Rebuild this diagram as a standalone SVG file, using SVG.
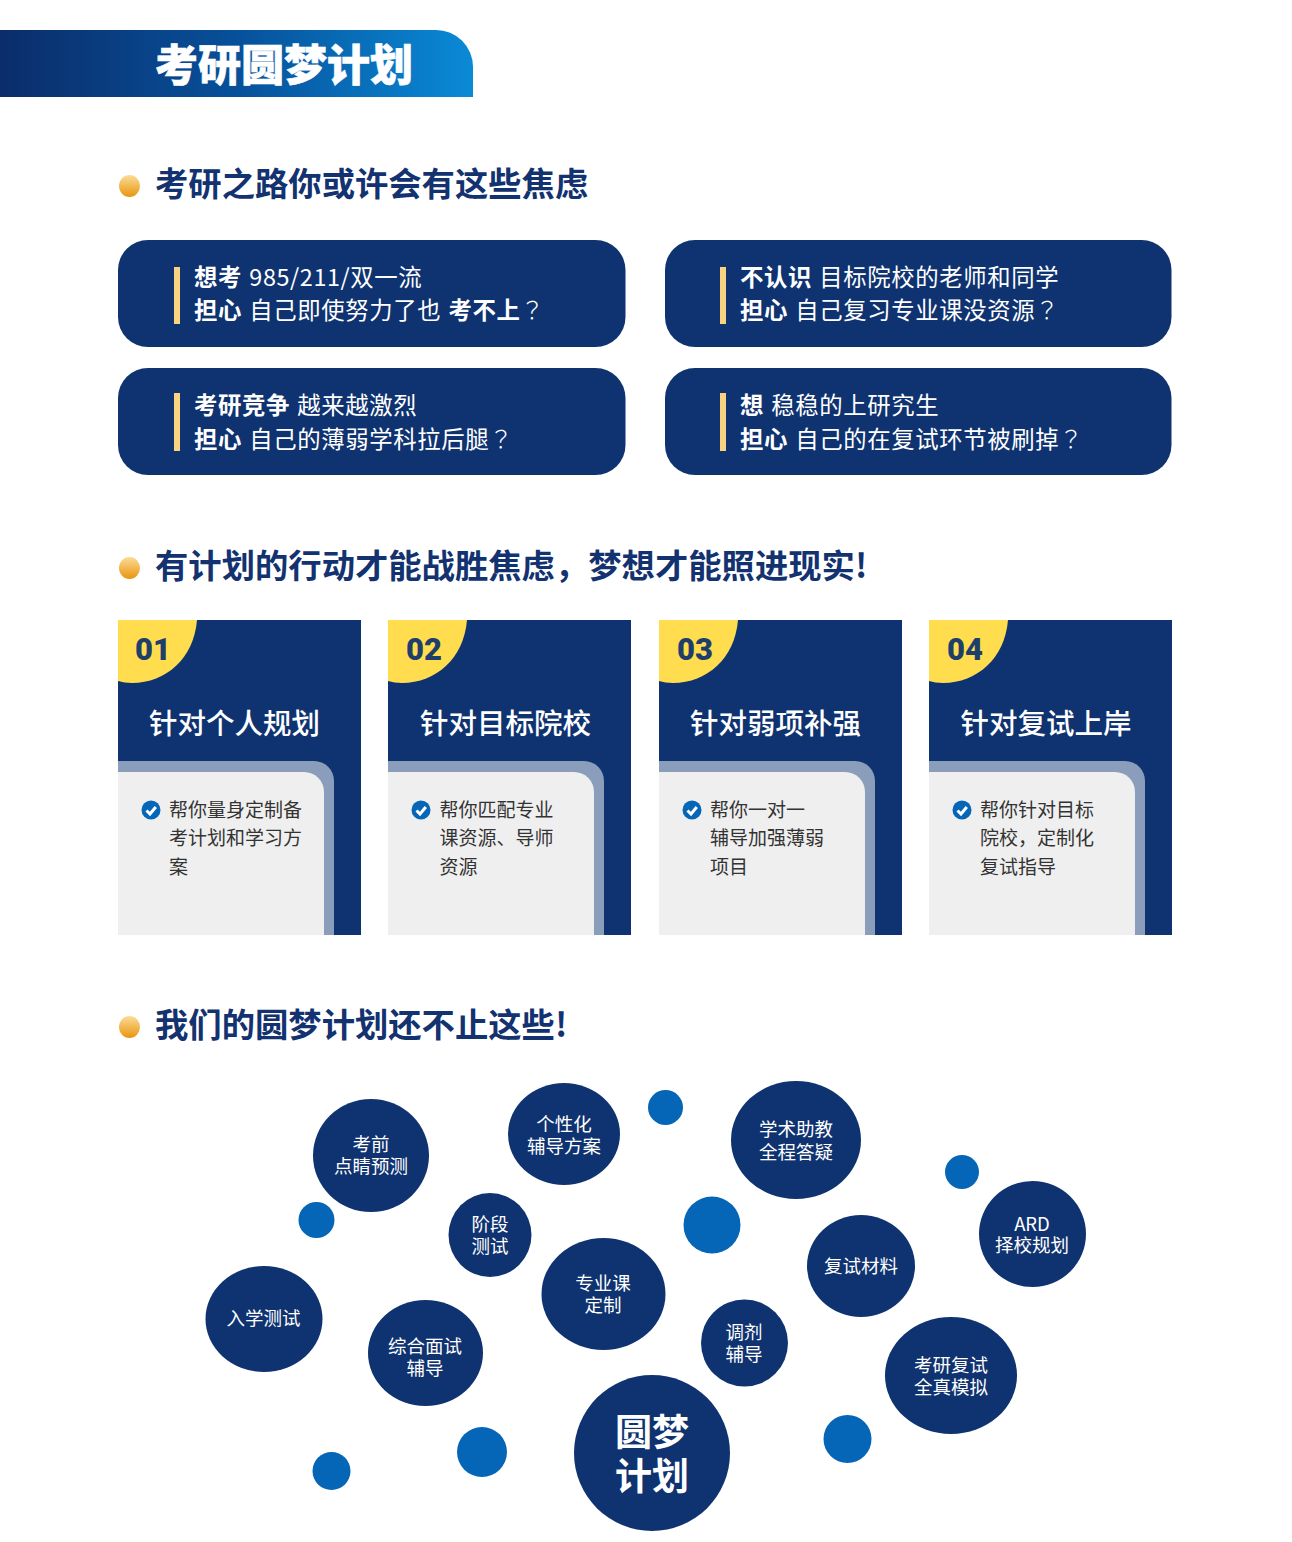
<svg xmlns="http://www.w3.org/2000/svg" width="1292" height="1542" viewBox="0 0 1292 1542">
<style>
text{font-family:"Noto Sans CJK SC","Noto Sans",sans-serif}
.h{font-size:33.350px;font-weight:700;fill:#133270}
.q{font-size:23.400px;fill:#fff;font-weight:400;letter-spacing:.6px;word-spacing:1.500px}
.q .b{font-weight:700}
.q .m{font-family:"Noto Sans CJK TC",sans-serif;font-weight:300}
.card{fill:#0f3370}
.bar{fill:#f9d282}
.num{font-family:Roboto,"Noto Sans",sans-serif;font-size:31px;font-weight:900;fill:#1f3f6b}
.t{font-size:28.500px;fill:#fff;text-anchor:middle;font-weight:500}
.d{font-size:19px;fill:#333}
.n{fill:#0f3370}
.s{fill:#0566b8}
.l{font-size:18.500px;fill:#fff;text-anchor:middle}
.big{font-size:37px;font-weight:700;fill:#fff;text-anchor:middle}
</style>
<defs>
<linearGradient id="ban" x1="0" x2="1" y1="0" y2="0"><stop offset="0" stop-color="#0b2d6a"/><stop offset=".5" stop-color="#07509a"/><stop offset="1" stop-color="#0a8ad6"/></linearGradient>
<linearGradient id="dot" x1="0" x2="0" y1="0" y2="1"><stop offset="0" stop-color="#fcdc97"/><stop offset="1" stop-color="#e8950f"/></linearGradient>
<g id="chk"><circle r="9.500" fill="#0566b8"/><path d="M-4.500 0.500L-1 4L4.800 -3" fill="none" stroke="#fff" stroke-width="3"/></g>
<g id="panel">
<rect width="243" height="315" class="card"/>
<path d="M0 0H79C76 38 48 63 14 63C9 63 4 62 0 61Z" fill="#ffdd4f"/>
<path d="M0 141H196A20 20 0 0 1 216 161V315H0Z" fill="#8a9dbb"/>
<path d="M0 152H186A20 20 0 0 1 206 172V315H0Z" fill="#efefef"/>
<use href="#chk" x="33" y="190"/>
</g>
</defs>

<g id="banner">
<path d="M0 30H436A37 37 0 0 1 473 67V97H0Z" fill="url(#ban)"/>
<text x="155" y="81" fill="#fff" stroke="#fff" stroke-width=".6" style="font-size:43px;font-weight:900">考研圆梦计划</text>
</g>

<g id="heading1"><ellipse cx="129.500" cy="186" rx="10.500" ry="11" fill="url(#dot)"/><text class="h" x="155" y="196">考研之路你或许会有这些焦虑</text></g>

<g id="q1"><rect x="118" y="240" width="507.500" height="107" rx="30" class="card"/><rect x="174" y="267" width="6" height="57" class="bar"/>
<text class="q" x="194" y="286"><tspan class="b">想考</tspan> 985/211/双一流</text>
<text class="q" x="194" y="319"><tspan class="b">担心</tspan> 自己即使努力了也 <tspan class="b">考不上</tspan><tspan class="m">？</tspan></text></g>
<g id="q2"><rect x="665" y="240" width="506.500" height="107" rx="30" class="card"/><rect x="720" y="267" width="6" height="57" class="bar"/>
<text class="q" x="740" y="286"><tspan class="b">不认识</tspan> 目标院校的老师和同学</text>
<text class="q" x="740" y="319"><tspan class="b">担心</tspan> 自己复习专业课没资源<tspan class="m">？</tspan></text></g>
<g id="q3"><rect x="118" y="368" width="507.500" height="107" rx="30" class="card"/><rect x="174" y="393" width="6" height="58" class="bar"/>
<text class="q" x="194" y="414"><tspan class="b">考研竞争</tspan> 越来越激烈</text>
<text class="q" x="194" y="448"><tspan class="b">担心</tspan> 自己的薄弱学科拉后腿<tspan class="m">？</tspan></text></g>
<g id="q4"><rect x="665" y="368" width="506.500" height="107" rx="30" class="card"/><rect x="720" y="393" width="6" height="58" class="bar"/>
<text class="q" x="740" y="414"><tspan class="b">想</tspan> 稳稳的上研究生</text>
<text class="q" x="740" y="448"><tspan class="b">担心</tspan> 自己的在复试环节被刷掉<tspan class="m">？</tspan></text></g>

<g id="heading2"><ellipse cx="129.500" cy="568" rx="10.500" ry="11" fill="url(#dot)"/><text class="h" x="155" y="578">有计划的行动才能战胜焦虑，梦想才能照进现实!</text></g>

<g id="p1"><use href="#panel" x="118" y="620"/><text class="num" x="135" y="660">01</text><text class="t" x="234.500" y="734">针对个人规划</text>
<text class="d" x="169" y="817">帮你量身定制备</text><text class="d" x="169" y="845">考计划和学习方</text><text class="d" x="169" y="874">案</text></g>
<g id="p2"><use href="#panel" x="388" y="620"/><text class="num" x="406" y="660">02</text><text class="t" x="505.500" y="734">针对目标院校</text>
<text class="d" x="439.500" y="817">帮你匹配专业</text><text class="d" x="439.500" y="845">课资源、导师</text><text class="d" x="439.500" y="874">资源</text></g>
<g id="p3"><use href="#panel" x="659" y="620"/><text class="num" x="677" y="660">03</text><text class="t" x="775.500" y="734">针对弱项补强</text>
<text class="d" x="710" y="817">帮你一对一</text><text class="d" x="710" y="845">辅导加强薄弱</text><text class="d" x="710" y="874">项目</text></g>
<g id="p4"><use href="#panel" x="929" y="620"/><text class="num" x="947" y="660">04</text><text class="t" x="1046" y="734">针对复试上岸</text>
<text class="d" x="980" y="817">帮你针对目标</text><text class="d" x="980" y="845">院校，定制化</text><text class="d" x="980" y="874">复试指导</text></g>

<g id="heading3"><ellipse cx="129.500" cy="1027" rx="10.500" ry="11" fill="url(#dot)"/><text class="h" x="155" y="1037">我们的圆梦计划还不止这些!</text></g>

<g id="connectors"/>

<g id="b1"><ellipse class="n" cx="371" cy="1155.500" rx="58" ry="56.500"/><text class="l" x="371" y="1151">考前</text><text class="l" x="371" y="1173">点睛预测</text></g>
<g id="b2"><ellipse class="n" cx="564" cy="1134" rx="56" ry="51"/><text class="l" x="564" y="1131">个性化</text><text class="l" x="564" y="1153">辅导方案</text></g>
<g id="b3"><ellipse class="n" cx="796" cy="1140" rx="65" ry="59"/><text class="l" x="796" y="1136">学术助教</text><text class="l" x="796" y="1159">全程答疑</text></g>
<g id="b4"><ellipse class="n" cx="1032.500" cy="1234" rx="53.500" ry="53"/><text class="l" x="1032" y="1231">ARD</text><text class="l" x="1032" y="1252">择校规划</text></g>
<g id="b5"><ellipse class="n" cx="861" cy="1266" rx="54" ry="51"/><text class="l" x="861" y="1273">复试材料</text></g>
<g id="b6"><ellipse class="n" cx="490" cy="1235" rx="41.500" ry="42"/><text class="l" x="490" y="1231">阶段</text><text class="l" x="490" y="1253">测试</text></g>
<g id="b7"><ellipse class="n" cx="603.500" cy="1294" rx="62" ry="56"/><text class="l" x="603" y="1290">专业课</text><text class="l" x="603" y="1312">定制</text></g>
<g id="b8"><ellipse class="n" cx="744.500" cy="1343" rx="43.500" ry="43.500"/><text class="l" x="744" y="1339">调剂</text><text class="l" x="744" y="1361">辅导</text></g>
<g id="b9"><ellipse class="n" cx="264" cy="1319" rx="58.500" ry="53"/><text class="l" x="263.500" y="1325">入学测试</text></g>
<g id="b10"><ellipse class="n" cx="425.500" cy="1353" rx="57.500" ry="53"/><text class="l" x="425" y="1353">综合面试</text><text class="l" x="425" y="1375">辅导</text></g>
<g id="b11"><ellipse class="n" cx="951" cy="1375.500" rx="66" ry="58.500"/><text class="l" x="951" y="1372">考研复试</text><text class="l" x="951" y="1394">全真模拟</text></g>
<g id="b12"><circle class="n" cx="652" cy="1453" r="78"/><text class="big" x="652" y="1446">圆梦</text><text class="big" x="652" y="1490">计划</text></g>

<g id="dots">
<circle class="s" cx="665.500" cy="1107.500" r="17.500"/>
<circle class="s" cx="316.500" cy="1220" r="18"/>
<circle class="s" cx="712" cy="1225" r="28.500"/>
<circle class="s" cx="962" cy="1172" r="17"/>
<circle class="s" cx="331.500" cy="1471" r="19"/>
<circle class="s" cx="482" cy="1452" r="25"/>
<circle class="s" cx="847.500" cy="1439" r="24"/>
</g>
</svg>
